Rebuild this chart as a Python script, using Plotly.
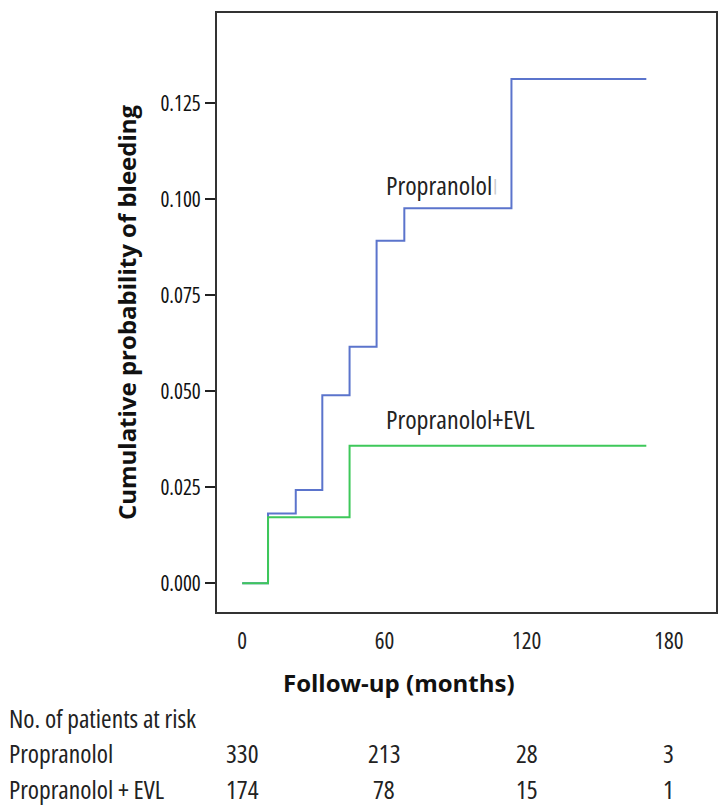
import plotly.graph_objects as go

# Kaplan-Meier style cumulative bleeding probability
prop_times = [0, 10.9, 22.6, 33.8, 45.3, 56.7, 68.4, 113.6, 170.5]
prop_cum = [0, 0.0182, 0.0243, 0.0490, 0.0616, 0.0892, 0.0977, 0.1313, 0.1313]
evl_times = [0, 10.9, 45.3, 170.5]
evl_cum = [0, 0.0172, 0.0358, 0.0358]

x_ticks = [0, 60, 120, 180]
y_ticks = [0, 0.025, 0.05, 0.075, 0.1, 0.125]

risk_times = [0, 60, 120, 180]
risk_prop = [330, 213, 28, 3]
risk_evl = [174, 78, 15, 1]

COND = "Open Sans, Roboto, Arial, sans-serif"
BOLD = "Open Sans, Arial, sans-serif"


def cond(s):
    return '<span style="font-stretch:75%">' + s + '</span>'


fig = go.Figure()
fig.add_trace(go.Scatter(x=prop_times, y=prop_cum, mode="lines", line_shape="hv",
                         line=dict(color="#5b74cc", width=2), name="Propranolol"))
fig.add_trace(go.Scatter(x=evl_times, y=evl_cum, mode="lines", line_shape="hv",
                         line=dict(color="#3ec85a", width=2), name="Propranolol+EVL"))

LF = dict(family=COND, size=26, color="#222")
ann = []
ann.append(dict(x=60, y=0.1037, xref="x", yref="y", text=cond("Propranolol"), showarrow=False,
                xanchor="left", yanchor="middle", font=LF))
ann.append(dict(x=106.5, y=0.1037, xref="x", yref="y", text="|", showarrow=False,
                xanchor="center", yanchor="middle", font=dict(family="Roboto", size=18, color="#c8c8c8")))
ann.append(dict(x=60, y=0.0428, xref="x", yref="y", text=cond("Propranolol+EVL"), showarrow=False,
                xanchor="left", yanchor="middle", font=LF))

# x-axis title (offset to the left as in the original)
ann.append(dict(x=0.365, y=-0.117, xref="paper", yref="paper", text="<b>Follow-up (months)</b>",
                showarrow=False, xanchor="center", yanchor="middle",
                font=dict(family=BOLD, size=24, color="#111")))

# number at risk table
row_y = [-0.177, -0.2362, -0.2955]
TF = dict(family=COND, size=25.5, color="#222")
for y, lab in zip(row_y, ["No. of patients at risk", "Propranolol", "Propranolol + EVL"]):
    ann.append(dict(x=-0.42, y=y, xref="paper", yref="paper", text=cond(lab),
                    showarrow=False, xanchor="left", yanchor="middle", font=TF))
for t, n in zip(risk_times, risk_prop):
    ann.append(dict(x=t, y=row_y[1], xref="x", yref="paper", text=cond(str(n)), showarrow=False,
                    xanchor="center", yanchor="middle", font=TF))
for t, n in zip(risk_times, risk_evl):
    ann.append(dict(x=t, y=row_y[2], xref="x", yref="paper", text=cond(str(n)), showarrow=False,
                    xanchor="center", yanchor="middle", font=TF))

fig.update_layout(
    width=725, height=809,
    margin=dict(l=217, r=7, t=13, b=197),
    paper_bgcolor="white", plot_bgcolor="white",
    showlegend=False,
    annotations=ann,
    xaxis=dict(range=[-10.63, 199.9], tickvals=x_ticks, ticktext=[cond(str(v)) for v in x_ticks],
               ticks="", showgrid=False, zeroline=False,
               showline=True, linecolor="#333", linewidth=2, mirror=True,
               ticklabelstandoff=7,
               tickfont=dict(family=COND, size=23, color="#222")),
    yaxis=dict(range=[-0.00747, 0.14852], tickvals=y_ticks,
               ticktext=[cond(f"{v:.3f}") for v in y_ticks], ticks="outside",
               ticklen=10, tickwidth=2, tickcolor="#222", showgrid=False, zeroline=False,
               showline=True, linecolor="#333", linewidth=2, mirror=True,
               tickfont=dict(family=COND, size=21, color="#111"),
               title=dict(text="<b>Cumulative probability of bleeding</b>", standoff=17,
                          font=dict(family=BOLD, size=24, color="#111"))),
)

fig.write_html("out.html", post_script="document.body.style.margin='0px';",
               config={"displayModeBar": False})
